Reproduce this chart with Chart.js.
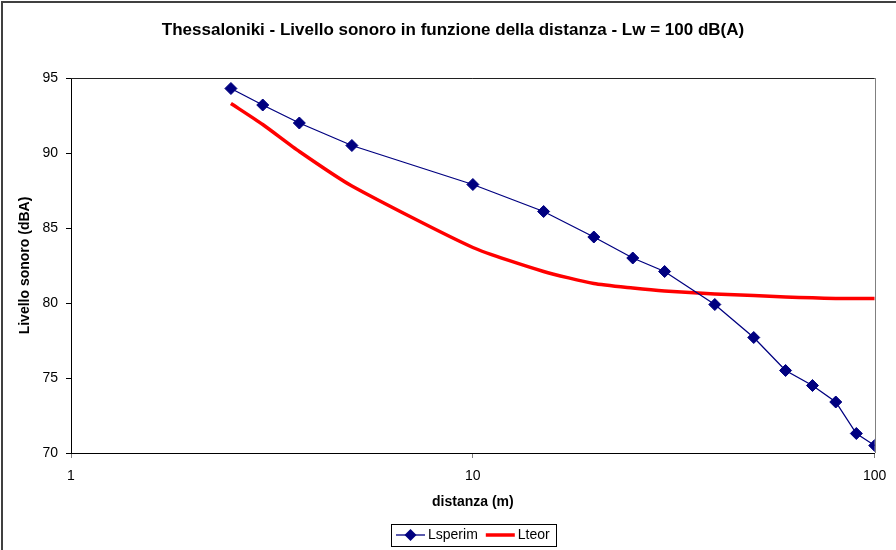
<!DOCTYPE html>
<html>
<head>
<meta charset="utf-8">
<script src="https://cdn.jsdelivr.net/npm/chart.js@4.4.1/dist/chart.umd.min.js"></script>
<style>
  html, body { margin: 0; padding: 0; background: #fff; }
  #wrap { width: 896px; height: 550px; }
</style>
</head>
<body>
<div id="wrap"><canvas id="chart" width="896" height="550"></canvas></div>
<script>
// distanze di misura (m)
var distanze = [2.5, 3, 3.7, 5, 10, 15, 20, 25, 30, 40, 50, 60, 70, 80, 90, 100];
// livello sperimentale (dBA)
var lsperim = [94.3, 93.2, 92.0, 90.5, 87.9, 86.1, 84.4, 83.0, 82.1, 79.9, 77.7, 75.5, 74.5, 73.4, 71.3, 70.5];
// livello teorico (dBA)
var lteor = [93.3, 91.9, 90.1, 87.8, 83.7, 82.1, 81.3, 81.0, 80.8, 80.6, 80.5, 80.4, 80.35, 80.3, 80.3, 80.3];
// etichette asse x
var xTicks = [1, 10, 100];

var toPoints = vals => vals.map((v, i) => ({ x: distanze[i], y: v }));

// il grafico originale era un po' piu' largo (tagliato a destra): titolo centrato su quello
var fullWidth = 906;

Chart.defaults.font.family = '"Liberation Sans", Arial, sans-serif';
Chart.defaults.font.size = 14;
Chart.defaults.color = '#000';

//cornici, legenda
var framePlugin = {
    id: 'frame',
    afterUpdate: chart => {
        const a = chart.chartArea;
        // titolo centrato sulla larghezza originale
        const t = chart.titleBlock;
        t.left = 0;
        t.right = fullWidth;
        t.width = fullWidth;
        // legenda centrata sull'area del grafico
        const lg = chart.legend;
        const boxes = lg.legendHitBoxes;
        const first = boxes[0], last = boxes[boxes.length - 1];
        const mid = (first.left + last.left + last.width) / 2;
        const dx = (a.left + a.right) / 2 - mid;
        lg.left += dx;
        lg.right += dx;
        boxes.forEach(h => { h.left += dx; });
    },
    beforeDraw: chart => {
        const ctx = chart.ctx;
        ctx.save();
        ctx.fillStyle = '#fff';
        ctx.fillRect(0, 0, chart.width, chart.height);
        ctx.restore();
    },
    afterDraw: chart => {
        const ctx = chart.ctx;
        const a = chart.chartArea;
        ctx.save();

        // bordo esterno (solo alto e sinistra visibili)
        ctx.strokeStyle = '#404040';
        ctx.lineWidth = 2;
        ctx.beginPath();
        ctx.moveTo(2, chart.height + 5);
        ctx.lineTo(2, 2);
        ctx.lineTo(chart.width + 5, 2);
        ctx.stroke();

        // bordo area grafico
        ctx.lineWidth = 1;
        ctx.strokeStyle = '#202020';
        ctx.beginPath();
        ctx.moveTo(a.left, Math.round(a.top) + 0.5);
        ctx.lineTo(a.right, Math.round(a.top) + 0.5);
        ctx.stroke();
        ctx.strokeStyle = '#808080';
        ctx.beginPath();
        ctx.moveTo(Math.round(a.right) + 0.5, a.top);
        ctx.lineTo(Math.round(a.right) + 0.5, a.bottom);
        ctx.stroke();

        // simboli legenda
        const boxes = chart.legend.legendHitBoxes;
        const bw = chart.options.plugins.legend.labels.boxWidth;
        boxes.forEach((h, i) => {
            const ds = chart.data.datasets[i];
            const cy = h.top + h.height / 2;
            ctx.strokeStyle = ds.borderColor;
            ctx.lineWidth = ds.borderWidth;
            ctx.beginPath();
            ctx.moveTo(h.left, cy);
            ctx.lineTo(h.left + bw + 4, cy);
            ctx.stroke();
            if (ds.pointRadius > 0) {
                ctx.fillStyle = ds.pointBackgroundColor;
                ctx.beginPath();
                const cx = h.left + (bw + 4) / 2, r = 6;
                ctx.moveTo(cx - r, cy);
                ctx.lineTo(cx, cy - r);
                ctx.lineTo(cx + r, cy);
                ctx.lineTo(cx, cy + r);
                ctx.closePath();
                ctx.fill();
            }
        });

        // riquadro legenda
        const first = boxes[0], last = boxes[boxes.length - 1];
        const l = Math.round(first.left - 5) + 0.5;
        const r = Math.round(last.left + last.width + 6) + 0.5;
        const cy = first.top + first.height / 2;
        ctx.strokeStyle = '#000';
        ctx.lineWidth = 1;
        ctx.strokeRect(l, Math.round(cy - 11) + 0.5, r - l, 22);
        ctx.restore();
    }
};

const chart = new Chart(document.getElementById('chart'), {
    type: 'line',
    data: {
        datasets: [{
            label: 'Lsperim',
            data: toPoints(lsperim),
            borderColor: '#000080',
            backgroundColor: '#000080',
            pointBackgroundColor: '#000080',
            pointBorderColor: '#000080',
            borderWidth: 1.3,
            pointStyle: 'rectRot',
            pointRadius: 6,
            pointBorderWidth: 1,
            tension: 0
        }, {
            label: 'Lteor',
            data: toPoints(lteor),
            borderColor: '#ff0000',
            backgroundColor: '#ff0000',
            borderWidth: 3.5,
            pointRadius: 0,
            tension: 0.2
        }]
    },
    options: {
        responsive: false,
        animation: false,
        layout: { padding: { left: 0, right: 19, top: 0, bottom: -2 } },
        plugins: {
            title: {
                display: true,
                text: 'Thessaloniki - Livello sonoro in funzione della distanza - Lw = 100 dB(A)',
                font: { size: 17, weight: 'bold' },
                color: '#000',
                padding: { top: 20, bottom: 37.6 }
            },
            legend: {
                position: 'bottom',
                labels: {
                    boxWidth: 25,
                    boxHeight: 14,
                    padding: 8,
                    color: '#000',
                    generateLabels: chart => chart.data.datasets.map((ds, i) => ({
                        text: ds.label,
                        fillStyle: 'rgba(0,0,0,0)',
                        strokeStyle: 'rgba(0,0,0,0)',
                        lineWidth: 0,
                        fontColor: '#000',
                        datasetIndex: i,
                        hidden: false
                    }))
                }
            },
            tooltip: { enabled: false }
        },
        scales: {
            x: {
                type: 'logarithmic',
                min: 1,
                max: 100,
                afterBuildTicks: s => { s.ticks = xTicks.map(v => ({ value: v, major: true })); },
                afterFit: s => { s.height = 67; },
                ticks: { callback: v => String(v), maxRotation: 0, autoSkip: false, padding: 9.6, color: '#000' },
                grid: { display: true, drawOnChartArea: false, drawTicks: true, tickLength: 5, color: '#808080' },
                border: { display: true, color: '#000', width: 1 },
                title: {
                    display: true,
                    text: 'distanza (m)',
                    font: { size: 14, weight: 'bold' },
                    color: '#000',
                    padding: { top: 0, bottom: 9.6 }
                }
            },
            y: {
                min: 70,
                max: 95,
                afterFit: s => { s.width = 71; },
                ticks: { stepSize: 5, padding: 8, color: '#000' },
                grid: { display: true, drawOnChartArea: false, drawTicks: true, tickLength: 5, color: '#000' },
                border: { display: true, color: '#000', width: 1 },
                title: {
                    display: true,
                    text: 'Livello sonoro (dBA)',
                    font: { size: 14, weight: 'bold' },
                    color: '#000',
                    padding: { top: 16.6, bottom: 0 }
                }
            }
        }
    },
    plugins: [framePlugin]
});
</script>
</body>
</html>
